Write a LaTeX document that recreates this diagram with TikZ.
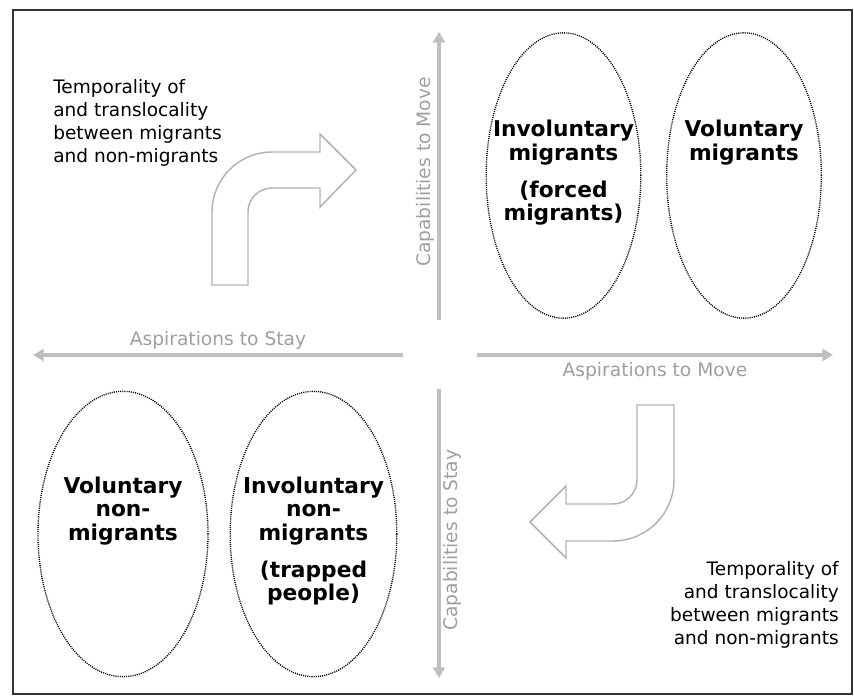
\documentclass[tikz,border=0pt]{standalone}
\usepackage{fontspec}
\setmainfont{DejaVu Sans}
\usetikzlibrary{arrows.meta,shapes.geometric,positioning}

\begin{document}
\begin{tikzpicture}[
		x=0.75pt, y=-0.75pt,
		axis/.style={draw=gray!50, line width=3pt, -{Triangle[length=8pt,width=9pt]}},
		axislabel/.style={text=gray!75, font=\fontsize{14}{17}\selectfont, inner sep=2pt},
		group/.style={ellipse, draw, line width=1pt, dash pattern=on 0.8pt off 0.8pt, minimum height=214pt},
		grouptext/.style={align=center, inner sep=0pt, font=\bfseries\fontsize{16.3}{17.6}\selectfont},
		bent/.style={draw=gray!60, line width=1.1pt},
		note/.style={inner sep=0pt, font=\fontsize{13.9}{17.3}\selectfont}
		]
		
		\useasboundingbox (0,0) rectangle (854,696);
		\draw[black!80, line width=1.5pt] (13,10) rectangle (852,694);
		
		% Les axes
		\coordinate (capmove0) at (439,320);
		\coordinate (capmove1) at (439,32);
		\coordinate (capstay0) at (439,389);
		\coordinate (capstay1) at (439,678);
		\coordinate (aspstay0) at (403,355);
		\coordinate (aspstay1) at (33,355);
		\coordinate (aspmove0) at (477,355);
		\coordinate (aspmove1) at (833,355);
		
		\draw[axis] (capmove0) -- (capmove1) node[midway, rotate=90, above=3pt, axislabel] (capmovelbl) {Capabilities to Move};
		\draw[axis] (capstay0) -- (capstay1) node[midway, rotate=90, below=5pt, axislabel] (capstaylbl) {Capabilities to Stay};
		\draw[axis] (aspstay0) -- (aspstay1) node[midway, above=1pt, axislabel] (aspstaylbl) {Aspirations to Stay};
		\draw[axis] (aspmove0) -- (aspmove1) node[midway, below=2pt, axislabel] (aspmovelbl) {Aspirations to Move};
		
		% Les groupes
		\node[group, minimum width=116pt] (invmig) at (563.5,175.5) {};
		\node[group, minimum width=116pt] (volmig) at (744,175.5) {};
		\node[group, minimum width=127.5pt] (volnon) at (123,534) {};
		\node[group, minimum width=125pt] (invnon) at (313.5,534) {};
		
		\node[grouptext, below=66pt of invmig.north] (invmigtxt) {Involuntary\\migrants\\[10pt](forced\\migrants)};
		\node[grouptext, below=66pt of volmig.north] (volmigtxt) {Voluntary\\migrants};
		\node[grouptext, below=64.5pt of volnon.north] (volnontxt) {Voluntary\\non-\\migrants};
		\node[grouptext, below=64.5pt of invnon.north] (invnontxt) {Involuntary\\non-\\migrants\\[10pt](trapped\\people)};
		
		% Les flèches coudées
		\draw[bent] (212,285) -- (212,212) arc[start angle=180, end angle=90, radius=45pt]
			-- (320,152) -- (320,134) -- (356,170) -- (320,207) -- (320,188) -- (272,188)
			arc[start angle=90, end angle=180, radius=18pt] -- (248,285) -- cycle;
		\draw[bent] (637,405) -- (637,480) arc[start angle=0, end angle=-90, radius=18pt]
			-- (566,504) -- (566,486) -- (530,522) -- (566,558) -- (566,541) -- (613,541)
			arc[start angle=-90, end angle=0, radius=45.75pt] -- (674,405) -- cycle;
		
		% Les textes
		\node[note, align=left, anchor=north west] (notetop) at (53,79) {Temporality of\\and translocality\\between migrants\\and non-migrants};
		\node[note, align=right, anchor=north east] (notebottom) at (839,561) {Temporality of\\and translocality\\between migrants\\and non-migrants};
	\end{tikzpicture}
\end{document}
